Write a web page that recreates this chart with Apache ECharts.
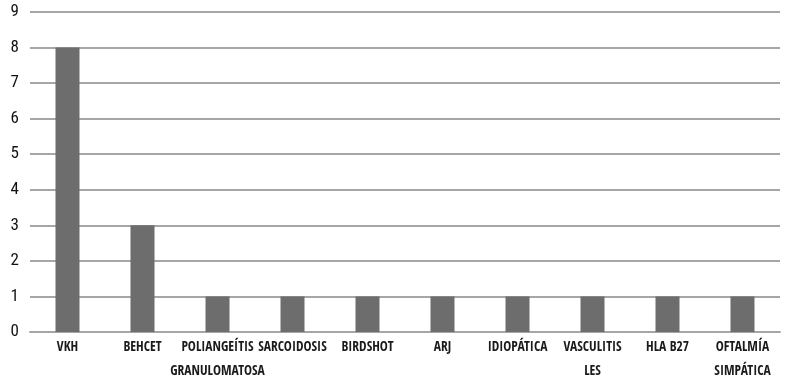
<!DOCTYPE html>
<html>
<head>
<meta charset="utf-8">
<script src="https://cdn.jsdelivr.net/npm/echarts@6/dist/echarts.min.js"></script>
<style>
  html, body { margin: 0; padding: 0; background: #fff; }
  #chart { width: 800px; height: 376px; }
</style>
</head>
<body>
<div id="chart"></div>
<script>
const categories = ['VKH', 'BEHCET', 'POLIANGEÍTIS\nGRANULOMATOSA', 'SARCOIDOSIS', 'BIRDSHOT',
    'ARJ', 'IDIOPÁTICA', 'VASCULITIS\nLES', 'HLA B27', 'OFTALMÍA\nSIMPÁTICA'];
const counts = [8, 3, 1, 1, 1, 1, 1, 1, 1, 1];

const labelFont = '"Open Sans Condensed", "Roboto Condensed", sans-serif';
const tickFont = '"Roboto Condensed", sans-serif';
const chart = echarts.init(document.getElementById('chart'));
chart.setOption({
    animation: false,
    grid: {
        top: 12,
        left: 30,
        right: 20,
        bottom: 44,
        containLabel: false,
        outerBoundsMode: 'none',
    },
    xAxis: {
        type: 'category',
        data: categories,
        axisLine: {lineStyle: {color: '#a6a6a6', width: 2}},
        axisTick: {show: false},
        axisLabel: {
            color: '#1a1a1a',
            fontFamily: labelFont,
            fontSize: 13.5,
            lineHeight: 24,
            margin: 3,
            interval: 0,
        },
    },
    yAxis: {
        type: 'value',
        min: 0,
        max: 9,
        interval: 1,
        axisLine: {show: false},
        axisTick: {show: false},
        splitLine: {lineStyle: {color: '#a6a6a6', width: 2}},
        axisLabel: {
            color: '#111',
            fontFamily: tickFont,
            fontSize: 17,
            margin: 11,
        },
    },
    series: [
        {
            type: 'bar',
            data: counts,
            barWidth: 24,
            itemStyle: {color: '#6d6d6d'},
        },
    ],
});
</script>
</body>
</html>
